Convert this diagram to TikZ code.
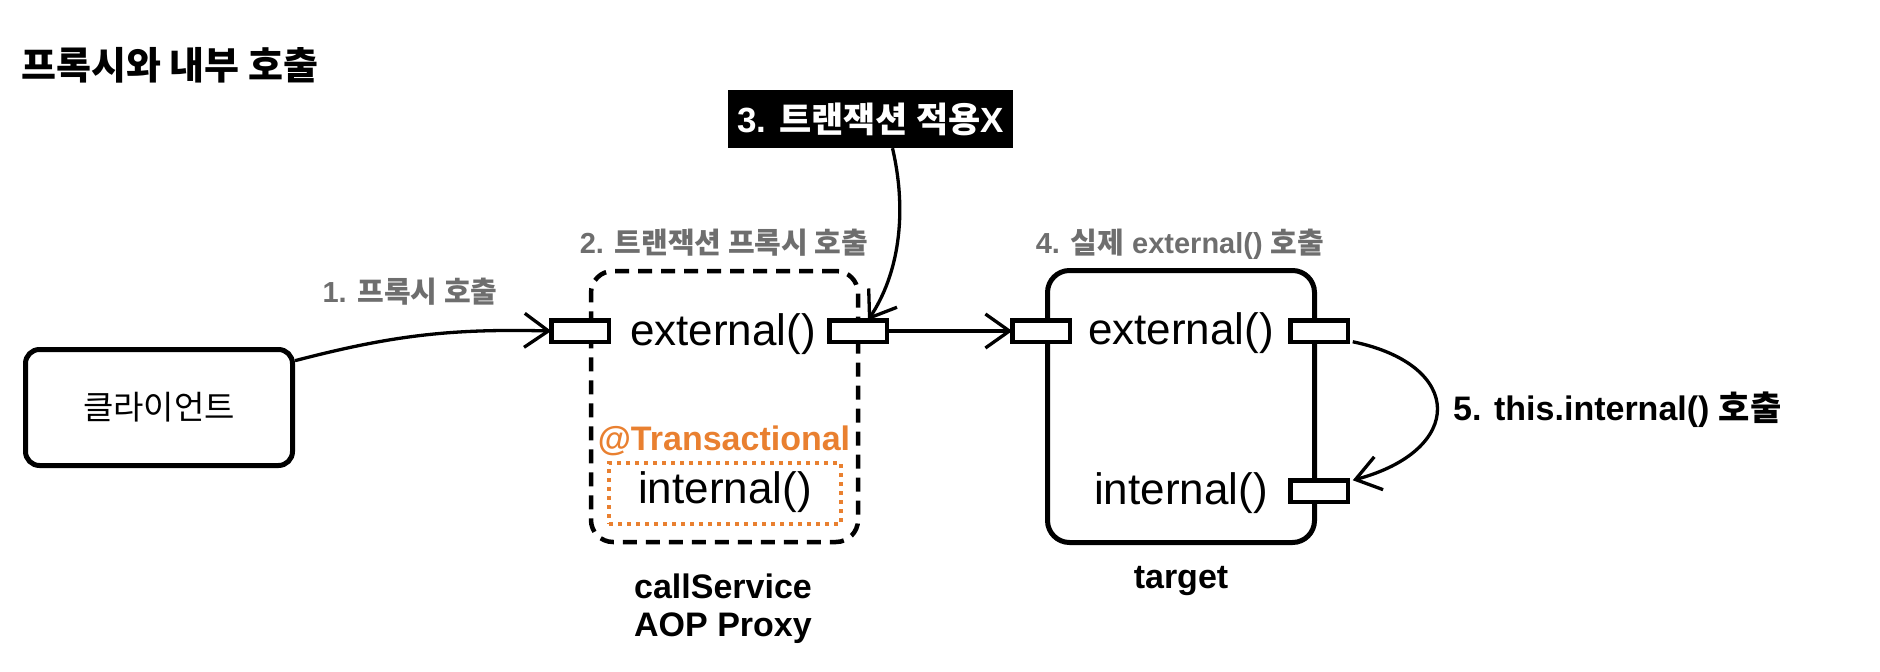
\documentclass[tikz,border=0pt]{standalone}
\usepackage{fontspec}
\setmainfont{Liberation Sans}
\newfontfamily\kr{Noto Sans CJK KR}
\usetikzlibrary{arrows.meta}
\definecolor{lblgray}{RGB}{110,110,110}
\definecolor{orng}{RGB}{233,128,48}
\newcommand{\fs}[1]{\fontsize{#1}{#1}\selectfont}
\newcommand{\K}[1]{{\kr #1}}
\begin{document}
\begin{tikzpicture}[x=1pt,y=-1pt,
  port/.style={draw, line width=4.5pt, fill=white, minimum width=57.5pt, minimum height=21.5pt, inner sep=0pt, outer sep=0pt},
  call/.style={line width=3.3pt, -{Straight Barb[length=24pt,width=34pt,line width=3.3pt]}},
  lbl/.style={font=\fs{29}\bfseries, text=lblgray, inner sep=0pt},
  meth/.style={font=\fs{44}, inner sep=0pt},
  bold/.style={font=\fs{34}\bfseries, inner sep=0pt},
  box/.style={draw, line width=5pt, rounded corners=22pt, inner sep=0pt}
]
\useasboundingbox (0,0) rectangle (1880,672);

% title
\node[anchor=base west, font=\fs{38}\kr\bfseries, inner sep=0pt] (title) at (21,79) {프록시와 내부 호출};

% black note
\node[fill=black, text=white, minimum width=285pt, minimum height=58pt, inner sep=0pt,
      font=\fs{35}\bfseries] (bb) at (870.5,119) {3. \K{트랜잭션 적용}X};

% client
\node[box, rounded corners=14pt, minimum width=267pt, minimum height=116pt, font=\fs{33}\kr]
  (client) at (159,407.5) {클라이언트};

% proxy box
\node[draw, line width=4.5pt, dash pattern=on 14pt off 9pt, rounded corners=22pt,
      minimum width=267pt, minimum height=271pt, inner sep=0pt] (proxy) at (724.5,406.5) {};
% orange dotted box
\node[draw=orng, line width=4pt, dash pattern=on 4pt off 5pt,
      minimum width=232pt, minimum height=61pt, inner sep=0pt] (tx) at (725,493.5) {};

% target box
\node[box, minimum width=267pt, minimum height=272pt] (target) at (1181,406.5) {};

% ports
\node[port] (pL) at (580,331) {};
\node[port] (pR) at (858,331) {};
\node[port] (tL) at (1041,331) {};
\node[port] (tR) at (1319,331) {};
\node[port] (tI) at (1319,491) {};

% method labels
\node[meth, anchor=base] (pext) at (723,345) {external()};
\node[meth, anchor=base] (pint) at (725,503) {internal()};
\node[meth, anchor=base] (text) at (1181,344) {external()};
\node[meth, anchor=base] (tint) at (1181,504) {internal()};

\node[bold, text=orng, anchor=base] (ann) at (724,450) {@Transactional};

% captions
\node[bold, anchor=base] (cs1) at (723,598) {callService};
\node[bold, anchor=base] (cs2) at (723,636) {AOP Proxy};
\node[bold, anchor=base] (tname) at (1181,588) {target};

% step labels
\node[lbl, anchor=base] (l1) at (410,302) {1. \K{프록시 호출}};
\node[lbl, anchor=base] (l2) at (724,253) {2. \K{트랜잭션 프록시 호출}};
\node[lbl, anchor=base] (l4) at (1180,253) {4. \K{실제} external() \K{호출}};
\node[bold, anchor=base west] (l5) at (1453,420) {5. this.internal() \K{호출}};

% connectors
\draw[call] (client.19) to[bend left=8] (pL.west);
\draw[call] (pR.east) -- (tL.west);
\draw[call] ([xshift=22pt]bb.south) .. controls (908,215) and (898,275) .. ([xshift=10pt]pR.north);
\draw[call] ([xshift=5pt]tR.south east) .. controls (1465,365) and (1465,450) .. ([xshift=5pt]tI.north east);
\end{tikzpicture}
\end{document}
